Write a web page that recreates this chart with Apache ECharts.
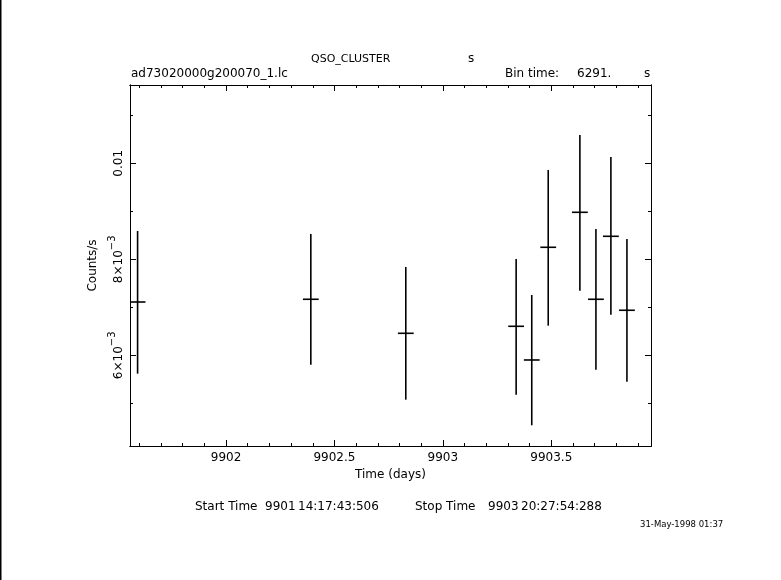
<!DOCTYPE html>
<html>
<head>
<meta charset="utf-8">
<script src="https://cdn.jsdelivr.net/npm/echarts@6/dist/echarts.min.js"></script>
<style>
html,body{margin:0;padding:0;background:#fff;}
#chart{width:781px;height:580px;}
</style>
</head>
<body>
<div id="chart"></div>
<script>
// ---- data ----
const timeDays = [9901.592, 9902.391, 9902.829, 9903.338, 9903.410, 9903.486, 9903.632, 9903.706, 9903.775, 9903.849];
const rate     = [0.007110, 0.007167, 0.006458, 0.006604, 0.005902, 0.008250, 0.008979, 0.007167, 0.008479, 0.006938];
const rateLow  = [0.005617, 0.005804, 0.005075, 0.005179, 0.004542, 0.006617, 0.007346, 0.005700, 0.006846, 0.005450];
const rateHigh = [0.008590, 0.008527, 0.007840, 0.008006, 0.007256, 0.009860, 0.010590, 0.008631, 0.010131, 0.008423];
const binSeconds = 6291;

const xMajorTicks = [9902, 9902.5, 9903, 9903.5];
const xTickLabels = ['9902', '9902.5', '9903', '9903.5'];
const xMinorTicks = [9901.6, 9901.7, 9901.8, 9901.9, 9902.1, 9902.2, 9902.3, 9902.4,
                     9902.6, 9902.7, 9902.8, 9902.9, 9903.1, 9903.2, 9903.3, 9903.4,
                     9903.6, 9903.7, 9903.8, 9903.9];
const yMajorTicks = [0.006, 0.008, 0.01];
const yTickMantissa = ['6×10', '8×10', '0.01'];
const yTickExponent = ['−3', '−3', ''];
const yMinorTicks = [0.005, 0.007, 0.009, 0.011];

const xRange = [9901.557, 9903.960];
const yRange = [0.00411, 0.011631];

// ---- chart ----
const FONT = '"DejaVu Sans", sans-serif';
const black = '#000';
const binDays = binSeconds / 86400;
const data = timeDays.map((t, i) => [t, rate[i], rateLow[i], rateHigh[i]]);

function xAxisDef(position, ticks, len, withLabels) {
  const ax = {
    type: 'value', position: position, min: xRange[0], max: xRange[1],
    axisLine: { show: true, onZero: false, lineStyle: { color: black, width: 1 } },
    axisTick: { show: true, inside: true, length: len, customValues: ticks, lineStyle: { color: black, width: 1 } },
    axisLabel: { show: false },
    splitLine: { show: false }
  };
  if (withLabels) {
    ax.axisLabel = {
      show: true, customValues: ticks, margin: 6, color: black,
      fontFamily: FONT, fontSize: 12,
      formatter: v => { const i = xMajorTicks.findIndex(t => Math.abs(t - v) < 1e-6); return i >= 0 ? xTickLabels[i] : ''; }
    };
    ax.name = 'Time (days)';
    ax.nameLocation = 'middle';
    ax.nameGap = 21;
    ax.nameTextStyle = { color: black, fontFamily: FONT, fontSize: 12 };
  }
  return ax;
}
function yAxisDef(position, ticks, len, withLabels) {
  const ax = {
    type: 'value', position: position, min: yRange[0], max: yRange[1],
    axisLine: { show: true, onZero: false, lineStyle: { color: black, width: 1 } },
    axisTick: { show: true, inside: true, length: len, customValues: ticks, lineStyle: { color: black, width: 1 } },
    axisLabel: { show: false },
    splitLine: { show: false }
  };
  if (withLabels) {
    ax.axisLabel = {
      show: true, customValues: ticks, margin: 5, rotate: 90, color: black,
      formatter: v => {
        const i = yMajorTicks.findIndex(t => Math.abs(t - v) < 1e-9);
        if (i < 0) return '';
        return yTickExponent[i] ? '{m|' + yTickMantissa[i] + '}{e|' + yTickExponent[i] + '}' : '{m|' + yTickMantissa[i] + '}';
      },
      rich: {
        m: { fontFamily: FONT, fontSize: 12, color: black, lineHeight: 18, verticalAlign: 'bottom' },
        e: { fontFamily: FONT, fontSize: 10, color: black, lineHeight: 18, verticalAlign: 'top' }
      }
    };
    ax.name = 'Counts/s';
    ax.nameLocation = 'middle';
    ax.nameGap = 28;
    ax.nameTextStyle = { color: black, fontFamily: FONT, fontSize: 12 };
  }
  return ax;
}

function renderItem(params, api) {
  const x = api.value(0), y = api.value(1), lo = api.value(2), hi = api.value(3);
  const c = api.coord([x, y]);
  const pLo = api.coord([x, lo]);
  const pHi = api.coord([x, hi]);
  const half = api.size([binDays, 0])[0] / 2;
  const st = { stroke: black, lineWidth: 1.6 };
  return {
    type: 'group',
    children: [
      { type: 'line', shape: { x1: c[0], y1: pHi[1], x2: c[0], y2: pLo[1] }, style: st },
      { type: 'line', shape: { x1: c[0] - half, y1: c[1], x2: c[0] + half, y2: c[1] }, style: st }
    ]
  };
}

function txt(text, x, y, size, align) {
  return {
    type: 'text', silent: true,
    style: {
      text: text, x: x, y: y, fill: black,
      font: size + 'px ' + FONT,
      align: align || 'left', verticalAlign: 'middle',
      textAlign: align || 'left', textVerticalAlign: 'middle'
    }
  };
}

const chart = echarts.init(document.getElementById('chart'), null, { renderer: 'canvas' });
chart.setOption({
  backgroundColor: '#fff',
  animation: false,
  grid: { left: 130, right: 130, top: 85, bottom: 134, containLabel: false },
  xAxis: [
    xAxisDef('bottom', xMajorTicks, 6, true),
    xAxisDef('bottom', xMinorTicks, 3, false),
    xAxisDef('top', xMajorTicks, 6, false),
    xAxisDef('top', xMinorTicks, 3, false)
  ],
  yAxis: [
    yAxisDef('left', yMajorTicks, 6, true),
    yAxisDef('left', yMinorTicks, 3, false),
    yAxisDef('right', yMajorTicks, 6, false),
    yAxisDef('right', yMinorTicks, 3, false)
  ],
  series: [{
    type: 'custom',
    xAxisIndex: 0, yAxisIndex: 0,
    renderItem: renderItem,
    encode: { x: 0, y: [1, 2, 3] },
    data: data,
    clip: true
  }],
  graphic: [
    { type: 'line', silent: true, shape: { x1: 0.75, y1: 0, x2: 0.75, y2: 580 }, style: { stroke: black, lineWidth: 1.5 } },
    txt('QSO_CLUSTER', 311, 59, 11),
    txt('s', 468, 59, 12),
    txt('ad73020000g200070_1.lc', 131, 74, 12),
    txt('Bin time:', 505, 74, 12),
    txt('6291.', 577, 74, 12),
    txt('s', 644, 74, 12),
    txt('Start Time', 195, 507, 12),
    txt('9901', 265, 507, 12),
    txt('14:17:43:506', 298, 507, 12),
    txt('Stop Time', 415, 507, 12),
    txt('9903', 488, 507, 12),
    txt('20:27:54:288', 521, 507, 12),
    txt('31-May-1998 01:37', 640, 525, 8.5)
  ]
});
</script>
</body>
</html>
